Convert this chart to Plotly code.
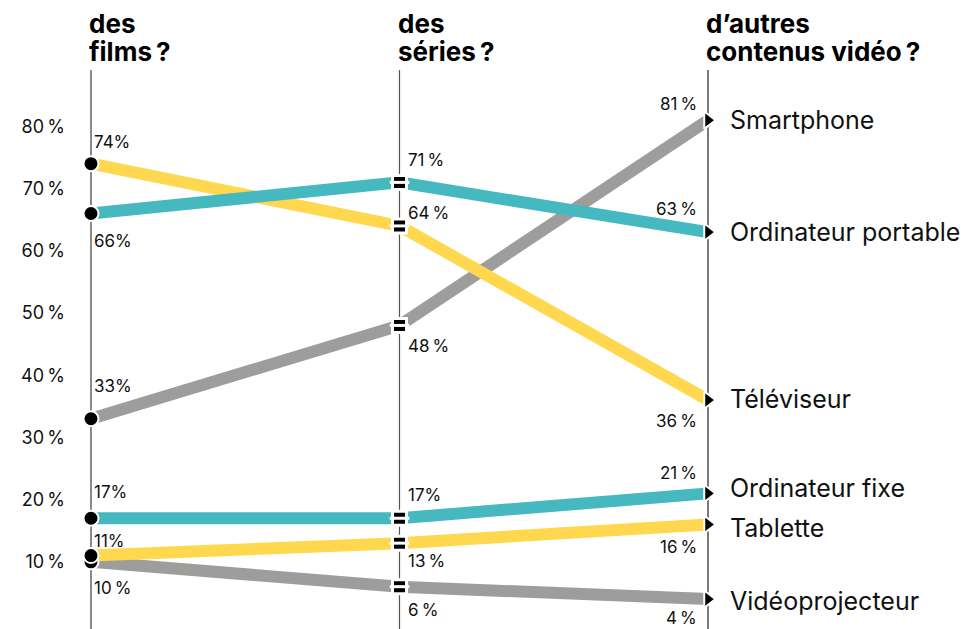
import plotly.graph_objects as go

# ---- data ----
columns = [["des", "films\u202f?"], ["des", "séries\u202f?"], ["d\u2019autres", "contenus vidéo\u202f?"]]
categories = ["Smartphone", "Ordinateur portable", "Téléviseur",
              "Ordinateur fixe", "Tablette", "Vidéoprojecteur"]
films = [33, 66, 74, 17, 11, 10]
series_ = [48, 71, 64, 17, 13, 6]
autres = [81, 63, 36, 21, 16, 4]
labels_films = ["33%", "66%", "74%", "17%", "11%", "10\u202f%"]
labels_series = ["48\u202f%", "71\u202f%", "64\u202f%", "17%", "13\u202f%", "6\u202f%"]
labels_autres = ["81\u202f%", "63\u202f%", "36\u202f%", "21\u202f%", "16\u202f%", "4\u202f%"]
y_ticks = [0, 10, 20, 30, 40, 50, 60, 70, 80]
y_ticktext = [f"{v}\u202f%" for v in y_ticks]

# ---- styles ----
colors = ["#9d9d9b", "#45b9bf", "#ffd84f", "#45b9bf", "#ffd84f", "#9d9d9b"]
# label vertical shifts in pixels (positive = up)
shift_films = [33, -28, 22, 26, 15, -26]
shift_series = [-21, 22, 13, 23, -18, -23]
shift_autres = [16, 23, -21, 20, -23, -19]
shift_cat = [0, 0, 1, 5, -4, -2]

W, H = 967, 629
L, T = 66, 70
plot_w = W - L
plot_h = H - T
k = 308.5  # px per column
x0 = -(91 - L) / k
xr = [x0, x0 + plot_w / k]
slope = 6.22
y_top = (624 - T) / slope
y_bot = -(H - 624) / slope
yr = [y_bot, y_top]

xs = [0, 1, 2]
fig = go.Figure()

draw_order = [5, 4, 3, 0, 2, 1]
for i in draw_order:
    fig.add_trace(go.Scatter(
        x=xs, y=[films[i], series_[i], autres[i]], mode="lines",
        line=dict(color=colors[i], width=12), hoverinfo="skip", showlegend=False))

# start circles
fig.add_trace(go.Scatter(
    x=[0] * len(films), y=[films[i] for i in [0, 1, 2, 3, 5, 4]], mode="markers",
    marker=dict(symbol="circle", size=15, color="black", line=dict(color="white", width=2)),
    hoverinfo="skip", showlegend=False))
# middle "=" markers
fig.add_trace(go.Scatter(
    x=[1] * len(series_), y=series_, mode="markers",
    marker=dict(symbol="square", size=14, color="black", line=dict(color="white", width=3)),
    hoverinfo="skip", showlegend=False))
fig.add_trace(go.Scatter(
    x=[1] * len(series_), y=series_, mode="markers",
    marker=dict(symbol="line-ew", size=14, color="white", line=dict(color="white", width=3)),
    hoverinfo="skip", showlegend=False))
# end triangles
fig.add_trace(go.Scatter(
    x=[2] * len(autres), y=autres, mode="markers",
    marker=dict(symbol="triangle-right", size=15, color="black", line=dict(color="white", width=2)),
    hoverinfo="skip", showlegend=False))

# vertical column lines
line_styles = [("#8a8a8a", 2), ("#555555", 1.2), ("#222222", 1.2)]
for x, (c, w) in zip(xs, line_styles):
    fig.add_shape(type="line", xref="x", yref="paper", x0=x, x1=x, y0=0, y1=1,
                  line=dict(color=c, width=w), layer="below")

font = "Inter, 'Noto Sans', sans-serif"
ann = []
header_baselines = [32, 60]
for x, lines in zip(xs, columns):
    for j, text in enumerate(lines):
        ann.append(dict(x=x, xref="x", y=1 + (T - header_baselines[j]) / plot_h, yref="paper",
                        text=text, showarrow=False, xanchor="left", yanchor="bottom",
                        xshift=-3, yshift=-8, borderpad=0,
                        font=dict(family=font, size=26, color="black", weight=700)))

for i in range(len(categories)):
    ann.append(dict(x=0, y=films[i], text=labels_films[i], showarrow=False, xanchor="left",
                    yanchor="middle", xshift=1, yshift=shift_films[i],
                    font=dict(family=font, size=17, color="#111")))
    ann.append(dict(x=1, y=series_[i], text=labels_series[i], showarrow=False, xanchor="left",
                    yanchor="middle", xshift=6, yshift=shift_series[i],
                    font=dict(family=font, size=17, color="#111")))
    ann.append(dict(x=2, y=autres[i], text=labels_autres[i], showarrow=False, xanchor="right",
                    yanchor="middle", xshift=-9, yshift=shift_autres[i],
                    font=dict(family=font, size=17, color="#111")))
    ann.append(dict(x=2, y=autres[i], text=categories[i], showarrow=False, xanchor="left",
                    yanchor="middle", xshift=20, yshift=shift_cat[i],
                    font=dict(family=font, size=25, color="#111")))

fig.update_layout(
    width=W, height=H, margin=dict(l=L, r=0, t=T, b=0),
    paper_bgcolor="white", plot_bgcolor="white",
    xaxis=dict(range=xr, visible=False, fixedrange=True),
    yaxis=dict(range=yr, tickvals=y_ticks, ticktext=y_ticktext, showgrid=False,
               zeroline=False, showline=False, ticks="", fixedrange=True,
               tickfont=dict(family=font, size=18, color="#111")),
    annotations=ann, showlegend=False,
)
fig.write_html("out.html", config={"displayModeBar": False},
               post_script="document.body.style.margin='0';")
